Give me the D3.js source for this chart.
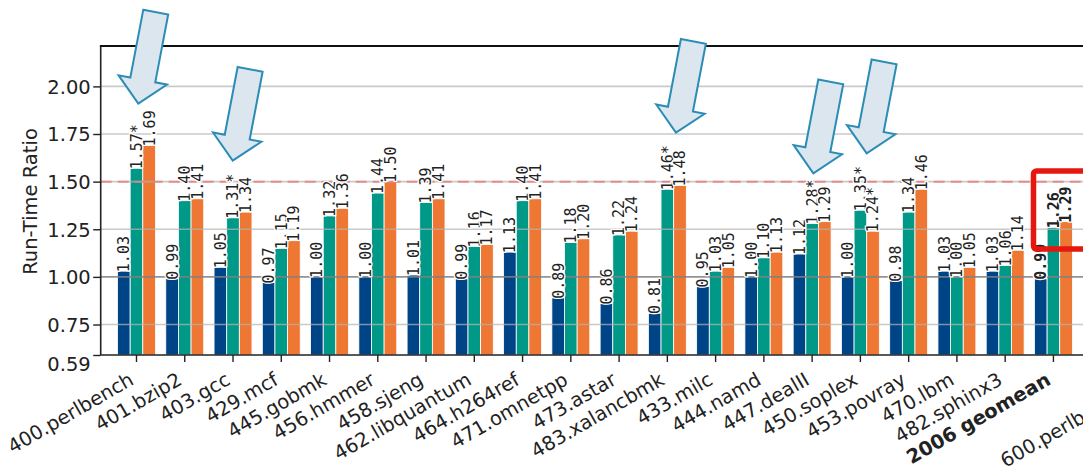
<!DOCTYPE html>
<html>
<head>
<meta charset="utf-8">
<script src="https://cdn.jsdelivr.net/npm/d3@7"></script>
<style>
  html, body { margin: 0; padding: 0; background: #fff; }
  svg { display: block; }
</style>
</head>
<body>
<svg id="chart" width="1083" height="472"></svg>
<script>
// ---- data ----
const categories2006 = ["400.perlbench","401.bzip2","403.gcc","429.mcf","445.gobmk","456.hmmer","458.sjeng",
  "462.libquantum","464.h264ref","471.omnetpp","473.astar","483.xalancbmk","433.milc","444.namd",
  "447.dealII","450.soplex","453.povray","470.lbm","482.sphinx3","2006 geomean"];
const categories2017 = ["600.perlbench"];
const categories = categories2006.concat(categories2017);
const boldCategory = "2006 geomean";
const seriesNames = ["blue", "green", "orange"];
const blueValues   = [1.03,0.99,1.05,0.97,1.00,1.00,1.01,0.99,1.13,0.89,0.86,0.81,0.95,1.00,1.12,1.00,0.98,1.03,1.03,0.99];
const greenValues  = [1.57,1.40,1.31,1.15,1.32,1.44,1.39,1.16,1.40,1.18,1.22,1.46,1.03,1.10,1.28,1.35,1.34,1.00,1.06,1.26];
const orangeValues = [1.69,1.41,1.34,1.19,1.36,1.50,1.41,1.17,1.41,1.20,1.24,1.48,1.05,1.13,1.29,1.24,1.46,1.05,1.14,1.29];
const blueStars    = [];
const greenStars   = ["400.perlbench","403.gcc","483.xalancbmk","447.dealII","450.soplex"];
const orangeStars  = ["450.soplex"];
const yTicks = [0.59, 0.75, 1.00, 1.25, 1.50, 1.75, 2.00];
const thresholdValue = 1.50;
// annotation arrows: category they point to and value at the arrow tip
const arrowCats   = ["400.perlbench","403.gcc","483.xalancbmk","447.dealII","450.soplex"];
const arrowTips   = [1.91, 1.61, 1.757, 1.544, 1.649];
const arrowShift  = [1.8, -0.3, 8.6, 1.2, 6.3];
// highlight box around geomean labels (value range)
const boxCategory = "2006 geomean";
const boxRange = [1.146, 1.556];

// ---- layout ----
const svg = d3.select("#chart");
const W = 1083, H = 472;
const mLeft = 100.7, mTop = 46, mBottom = 355;
const colors = ["#004488", "#009988", "#EE7733"];
const step = 48.26, pIn = 0.2147, pOut = 0.349;
const suiteGap = 0.55 * step;
const mRight = mLeft + step * (categories.length - pIn + 2 * pOut) + suiteGap;

const x = d3.scaleBand().domain(categories).range([mLeft, mRight - suiteGap]).paddingInner(pIn).paddingOuter(pOut);
const xs = d3.scaleBand().domain(seriesNames).range([0, x.bandwidth()]).padding(0);
const y = d3.scaleLinear().domain([0.59, 2.212]).range([mBottom, mTop]);
const xCenter = c => x(c) + x.bandwidth() / 2 + (categories2017.includes(c) ? suiteGap : 0);

const seriesData = [
  {name: "blue", values: blueValues, stars: blueStars},
  {name: "green", values: greenValues, stars: greenStars},
  {name: "orange", values: orangeValues, stars: orangeStars}
];

svg.append("rect").attr("width", W).attr("height", H).attr("fill", "#fff");

// bars
const barsG = svg.append("g");
seriesData.forEach((s, si) => {
  barsG.selectAll(null).data(s.values.map((v, i) => ({cat: categories[i], v})))
    .join("rect")
    .attr("x", d => x(d.cat) + xs(s.name))
    .attr("width", xs.bandwidth())
    .attr("y", d => y(d.v))
    .attr("height", d => y(0.59) - y(d.v))
    .attr("fill", colors[si])
    .attr("stroke", "#fff")
    .attr("stroke-width", 0.8);
});

// gridlines (drawn over bars, semi transparent)
const gridG = svg.append("g");
gridG.selectAll(null).data(yTicks.filter(t => t > 0.6)).join("line")
  .attr("x1", mLeft).attr("x2", mRight)
  .attr("y1", d => y(d)).attr("y2", d => y(d))
  .attr("stroke", d => d === 1 ? "#808080" : "#b4b4b4")
  .attr("stroke-opacity", d => d === 1 ? 0.85 : 0.7)
  .attr("stroke-width", 1.6);

// threshold dashed line
svg.append("line")
  .attr("x1", mLeft).attr("x2", mRight)
  .attr("y1", y(thresholdValue)).attr("y2", y(thresholdValue))
  .attr("stroke", "#e88080").attr("stroke-opacity", 0.85)
  .attr("stroke-width", 2).attr("stroke-dasharray", "11,6");

// value labels
const fmt = d3.format(".2f");
const labG = svg.append("g");
seriesData.forEach((s) => {
  labG.selectAll(null).data(s.values.map((v, i) => ({cat: categories[i], v})))
    .join("text")
    .attr("transform", d => `translate(${x(d.cat) + xs(s.name) + xs.bandwidth() / 2},${y(d.v) + 1}) rotate(-90)`)
    .attr("dy", "0.36em")
    .attr("text-anchor", "start")
    .attr("font-family", "DejaVu Sans Mono, monospace")
    .attr("font-size", 15)
    .attr("font-weight", d => d.cat === boldCategory ? "bold" : "normal")
    .attr("fill", "#222")
    .attr("stroke", "#fff")
    .attr("stroke-width", 2.6)
    .attr("stroke-linejoin", "round")
    .attr("paint-order", "stroke")
    .text(d => fmt(d.v) + (s.stars.includes(d.cat) ? "*" : ""));
});

// axes
const yAxis = d3.axisLeft(y).tickValues(yTicks).tickFormat(fmt).tickSize(7.5).tickPadding(2.5);
const gy = svg.append("g").attr("transform", `translate(${mLeft},0)`).call(yAxis);
gy.select(".domain").remove();
gy.selectAll(".tick line").attr("stroke", "#222").attr("stroke-width", 1.4);
gy.selectAll(".tick text")
  .attr("font-family", "DejaVu Sans, sans-serif").attr("font-size", 19.5).attr("fill", "#222")
  .attr("dy", d => d === 0.59 ? "0.8em" : "0.355em");

const xAxis = d3.axisBottom(x).tickSize(7).tickPadding(0);
const gx = svg.append("g").attr("transform", `translate(0,${mBottom})`).call(xAxis);
gx.select(".domain").remove();
gx.selectAll(".tick").attr("transform", d => `translate(${xCenter(d)},0)`);
gx.selectAll(".tick line").attr("stroke", "#222").attr("stroke-width", 1.4);
gx.selectAll(".tick text")
  .attr("font-family", "DejaVu Sans, sans-serif").attr("font-size", 19.5).attr("fill", "#222")
  .attr("font-weight", d => d === boldCategory ? "bold" : "normal")
  .attr("text-anchor", "end")
  .attr("y", 0).attr("dy", 0)
  .attr("transform", d => categories2017.includes(d)
    ? "translate(-0.5,42.5) rotate(-30)"
    : "translate(-1.5,28.5) rotate(-30)");

// spines
svg.append("line").attr("x1", mLeft).attr("x2", mLeft).attr("y1", mTop).attr("y2", mBottom)
  .attr("stroke", "#222").attr("stroke-width", 1.6);
svg.append("line").attr("x1", mLeft).attr("x2", mRight).attr("y1", mBottom).attr("y2", mBottom)
  .attr("stroke", "#222").attr("stroke-width", 1.6);
svg.append("line").attr("x1", mLeft - 0.8).attr("x2", mRight).attr("y1", mTop).attr("y2", mTop)
  .attr("stroke", "#111").attr("stroke-width", 1.8);
svg.append("line").attr("x1", mRight).attr("x2", mRight).attr("y1", mTop).attr("y2", mBottom)
  .attr("stroke", "#222").attr("stroke-width", 1.6);

// y label
svg.append("text")
  .attr("transform", `translate(36.5,${(mTop + mBottom) / 2 + 1}) rotate(-90)`)
  .attr("text-anchor", "middle")
  .attr("font-family", "DejaVu Sans, sans-serif").attr("font-size", 19.5).attr("fill", "#222")
  .text("Run-Time Ratio");

// annotation arrows
const arrowShape = [[-12.7,-93],[12.7,-93],[12.7,-24],[24.6,-24],[0,0],[-24.6,-24],[-12.7,-24]];
const arrowG = svg.append("g");
arrowG.selectAll(null).data(arrowCats.map((c, i) => ({c, v: arrowTips[i], dx: arrowShift[i]})))
  .join("path")
  .attr("d", "M" + arrowShape.map(p => p.join(",")).join("L") + "Z")
  .attr("transform", d => `translate(${xCenter(d.c) + d.dx},${y(d.v)}) rotate(10.8)`)
  .attr("fill", "#dbe6ef")
  .attr("stroke", "#2b8db5")
  .attr("stroke-width", 2)
  .attr("stroke-linejoin", "miter");

// highlight box
svg.append("rect")
  .attr("x", x(boxCategory) - 1)
  .attr("y", y(boxRange[1]))
  .attr("width", 120)
  .attr("height", y(boxRange[0]) - y(boxRange[1]))
  .attr("rx", 3)
  .attr("fill", "none")
  .attr("stroke", "#e5170f")
  .attr("stroke-width", 5.5);
</script>
</body>
</html>
